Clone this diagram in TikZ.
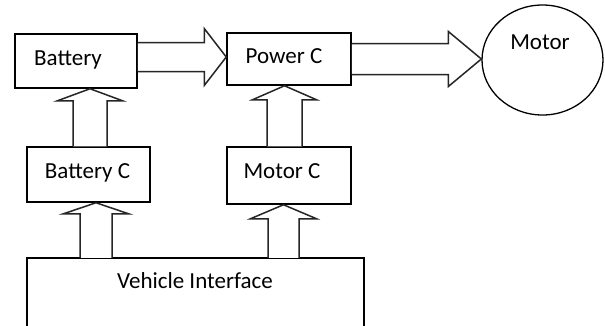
\documentclass[tikz,border=0pt]{standalone}
\usepackage{fontspec}
\setmainfont{Carlito}
\usetikzlibrary{calc,shapes.geometric}
\tikzset{
  box/.style={draw=black, line width=1.5pt, rectangle, inner sep=0pt},
  lbl/.style={anchor=base, inner sep=0pt, font=\fontsize{23}{27}\selectfont, text=black},
  blk/.style={draw=black!85, line width=1.5pt, line join=miter, fill=white},
}
% right-pointing block arrow: #1 tail, #2 tip, #3 axis y, #4 shaft half, #5 head half, #6 head length
\newcommand\rblk[6]{%
  \draw[blk] let \p1=(#1), \p2=(#2) in
    (\x1,{-(#3-#4)*1pt}) -- ({\x2-#6pt},{-(#3-#4)*1pt}) -- ({\x2-#6pt},{-(#3-#5)*1pt})
    -- (\x2,{-#3pt}) -- ({\x2-#6pt},{-(#3+#5)*1pt}) -- ({\x2-#6pt},{-(#3+#4)*1pt})
    -- (\x1,{-(#3+#4)*1pt});}
% upward block arrow: #1 tail, #2 tip, #3 axis x, #4 shaft half, #5 head half, #6 head length
\newcommand\ublk[6]{%
  \draw[blk] let \p1=(#1), \p2=(#2) in
    ({(#3-#4)*1pt},\y1) -- ({(#3-#4)*1pt},{\y2-#6pt}) -- ({(#3-#5)*1pt},{\y2-#6pt})
    -- ({#3pt},\y2) -- ({(#3+#5)*1pt},{\y2-#6pt}) -- ({(#3+#4)*1pt},{\y2-#6pt})
    -- ({(#3+#4)*1pt},\y1);}
\begin{document}
\begin{tikzpicture}[x=1pt,y=-1pt]
  \useasboundingbox[fill=white] (0,0) rectangle (605,325);
  % boxes
  \node[box, minimum width=122pt, minimum height=54pt] (bat) at (76,61) {};
  \node[box, minimum width=124pt, minimum height=52pt] (pc) at (289,59) {};
  \node[box, minimum width=123pt, minimum height=55pt] (bc) at (88.5,174.5) {};
  \node[box, minimum width=124pt, minimum height=57pt] (mc) at (289,175.5) {};
  \node[draw=black, line width=1.3pt, ellipse, minimum width=121pt, minimum height=110pt, inner sep=0pt] (mot) at (542.5,60) {};
  \node[inner sep=0pt, minimum width=337pt, minimum height=80pt] (vi) at (195.5,298) {};
  \draw[line width=1.5pt] (vi.south west) -- (vi.north west) -- (vi.north east) -- (vi.south east);
  % labels
  \node[lbl] (tbat) at (68,65) {Battery};
  \node[lbl] (tpc) at (284,63) {Power C};
  \node[lbl] (tbc) at (87.5,178) {Battery C};
  \node[lbl] (tmc) at (282,178) {Motor C};
  \node[lbl] (tmot) at (540,49) {Motor};
  \node[lbl] (tvi) at (195,288) {Vehicle Interface};
  % block arrows
  \rblk{bat.east}{pc.west}{57}{14.5}{28.5}{22}
  \rblk{pc.east}{mot.west}{59}{15.5}{27.5}{33}
  \ublk{bc.north}{bat.south}{90}{17}{32.5}{12}
  \ublk{mc.north}{pc.south}{284.5}{17.5}{32}{14}
  \ublk{vi.north}{bc.south}{96}{16}{32.5}{11}
  \ublk{vi.north}{mc.south}{283.5}{15.5}{33}{14}
\end{tikzpicture}
\end{document}
